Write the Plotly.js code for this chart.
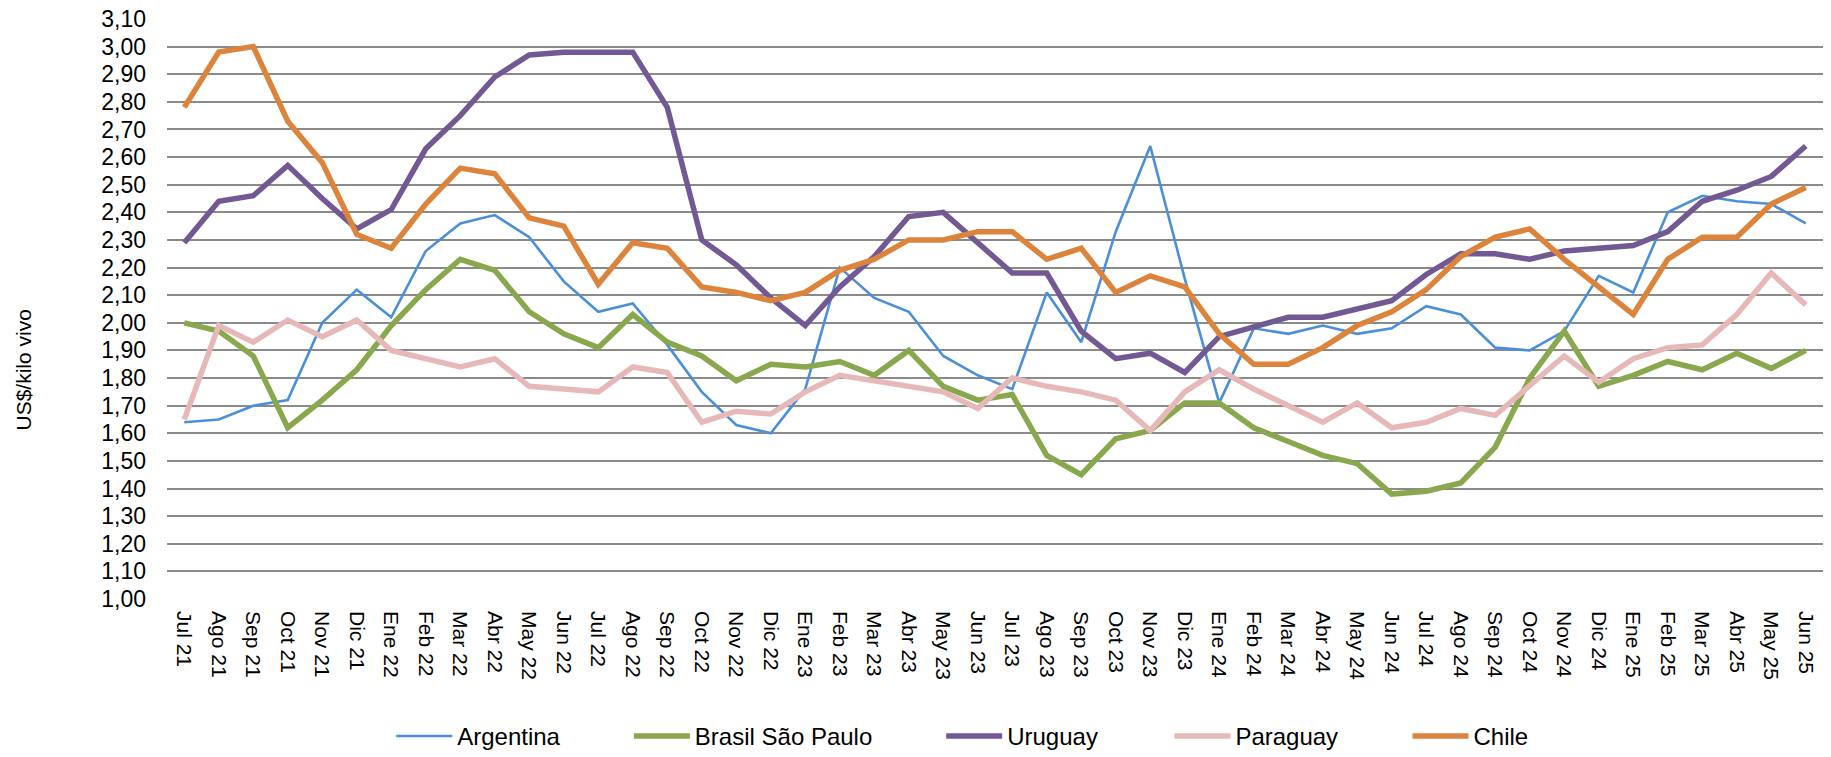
<!DOCTYPE html>
<html>
<head>
<meta charset="utf-8">
<script src="https://cdn.plot.ly/plotly-3.0.1.min.js"></script>
<style>
html,body{margin:0;padding:0;background:#fff;}
#chart{width:1831px;height:757px;}
</style>
</head>
<body>
<div id="chart"></div>
<script>
const months = ["Jul 21","Ago 21","Sep 21","Oct 21","Nov 21","Dic 21",
  "Ene 22","Feb 22","Mar 22","Abr 22","May 22","Jun 22","Jul 22","Ago 22","Sep 22","Oct 22","Nov 22","Dic 22",
  "Ene 23","Feb 23","Mar 23","Abr 23","May 23","Jun 23","Jul 23","Ago 23","Sep 23","Oct 23","Nov 23","Dic 23",
  "Ene 24","Feb 24","Mar 24","Abr 24","May 24","Jun 24","Jul 24","Ago 24","Sep 24","Oct 24","Nov 24","Dic 24",
  "Ene 25","Feb 25","Mar 25","Abr 25","May 25","Jun 25"];

const argentina = [1.64,1.65,1.70,1.72,2.00,2.12,2.02,2.26,2.36,2.39,
  2.31,2.15,2.04,2.07,1.92,1.75,1.63,1.60,1.76,2.20,
  2.09,2.04,1.88,1.81,1.76,2.11,1.93,2.33,2.64,2.16,
  1.71,1.98,1.96,1.99,1.96,1.98,2.06,2.03,1.91,1.90,
  1.97,2.17,2.11,2.40,2.46,2.44,2.43,2.36];

const brasil = [2.00,1.97,1.88,1.62,1.72,1.83,1.99,2.12,2.23,2.19,
  2.04,1.96,1.91,2.03,1.93,1.88,1.79,1.85,1.84,1.86,
  1.81,1.90,1.77,1.72,1.74,1.52,1.45,1.58,1.61,1.71,
  1.71,1.62,1.57,1.52,1.49,1.38,1.39,1.42,1.55,1.80,
  1.97,1.77,1.81,1.86,1.83,1.89,1.835,1.90];

const uruguay = [2.29,2.44,2.46,2.57,2.45,2.34,2.41,2.63,2.75,2.89,
  2.97,2.98,2.98,2.98,2.78,2.30,2.21,2.09,1.99,2.13,
  2.24,2.385,2.40,2.29,2.18,2.18,1.97,1.87,1.89,1.82,
  1.95,1.985,2.02,2.02,2.05,2.08,2.175,2.25,2.25,2.23,
  2.26,2.27,2.28,2.33,2.44,2.48,2.53,2.64];

const paraguay = [1.65,1.99,1.93,2.01,1.95,2.01,1.90,1.87,1.84,1.87,
  1.77,1.76,1.75,1.84,1.82,1.64,1.68,1.67,1.75,1.81,
  1.79,1.77,1.75,1.69,1.80,1.77,1.75,1.72,1.61,1.75,
  1.83,1.76,1.70,1.64,1.71,1.62,1.64,1.69,1.665,1.77,
  1.88,1.785,1.87,1.91,1.92,2.03,2.18,2.065];

const chile = [2.78,2.98,3.00,2.73,2.58,2.32,2.27,2.43,2.56,2.54,
  2.38,2.35,2.14,2.29,2.27,2.13,2.11,2.08,2.11,2.19,
  2.23,2.30,2.30,2.33,2.33,2.23,2.27,2.11,2.17,2.13,
  1.96,1.85,1.85,1.91,1.99,2.04,2.12,2.24,2.31,2.34,
  2.23,2.13,2.03,2.23,2.31,2.31,2.43,2.49];

const seriesNames = ["Argentina","Brasil São Paulo","Uruguay","Paraguay","Chile"];
const yTitle = "US$/kilo vivo";

const FONT = "Liberation Sans, Arial, Helvetica, sans-serif";

const styles = [
  {color:"#4a8fd8", width:2.6, legend:"legend",  lx:0.1354},
  {color:"#89a74c", width:5.5, legend:"legend2", lx:0.2789},
  {color:"#725993", width:5.5, legend:"legend3", lx:0.4675},
  {color:"#e6b9b8", width:5.5, legend:"legend4", lx:0.6053},
  {color:"#dd843c", width:5.5, legend:"legend5", lx:0.7491}
];
const values = [argentina, brasil, uruguay, paraguay, chile];

const traces = values.map((v,i)=>({
  type:"scatter", mode:"lines", x:months, y:v, name:seriesNames[i],
  line:{color:styles[i].color, width:styles[i].width, shape:"linear"},
  legend:styles[i].legend, hoverinfo:"x+y+name"
}));

const layout = {
  width:1831, height:757,
  margin:{l:167, r:8, t:19, b:158, autoexpand:false},
  paper_bgcolor:"#ffffff", plot_bgcolor:"#ffffff",
  font:{family:FONT, color:"#000000"},
  separators:", ",
  showlegend:true,
  xaxis:{
    type:"category", range:[-0.5, 47.5], automargin:false,
    showgrid:false, zeroline:false, showline:false,
    ticks:"", tickangle:90, ticklabelstandoff:11,
    tickfont:{family:FONT, size:21, color:"#000"}
  },
  yaxis:{
    range:[1, 3.1], dtick:0.1, tick0:1, tickformat:".2f", automargin:false,
    showgrid:true, gridcolor:"#8a8a8a", gridwidth:2,
    zeroline:false, showline:false, ticks:"",
    ticklabelstandoff:20,
    tickfont:{family:FONT, size:23, color:"#000"}
  },
  annotations:[{
    text:yTitle, xref:"paper", yref:"y", x:-0.0865, y:1.83,
    xanchor:"center", yanchor:"middle", textangle:-90, showarrow:false,
    font:{family:FONT, size:21, color:"#000"}
  }]
};
styles.forEach((s,i)=>{
  layout[s.legend] = {
    orientation:"h", x:s.lx, y:-0.237, xanchor:"left", yanchor:"middle",
    xref:"paper", yref:"paper", bgcolor:"rgba(0,0,0,0)", borderwidth:0,
    itemwidth:56, font:{family:FONT, size:24, color:"#000"}
  };
});

Plotly.newPlot("chart", traces, layout, {displayModeBar:false, staticPlot:true});
</script>
</body>
</html>
